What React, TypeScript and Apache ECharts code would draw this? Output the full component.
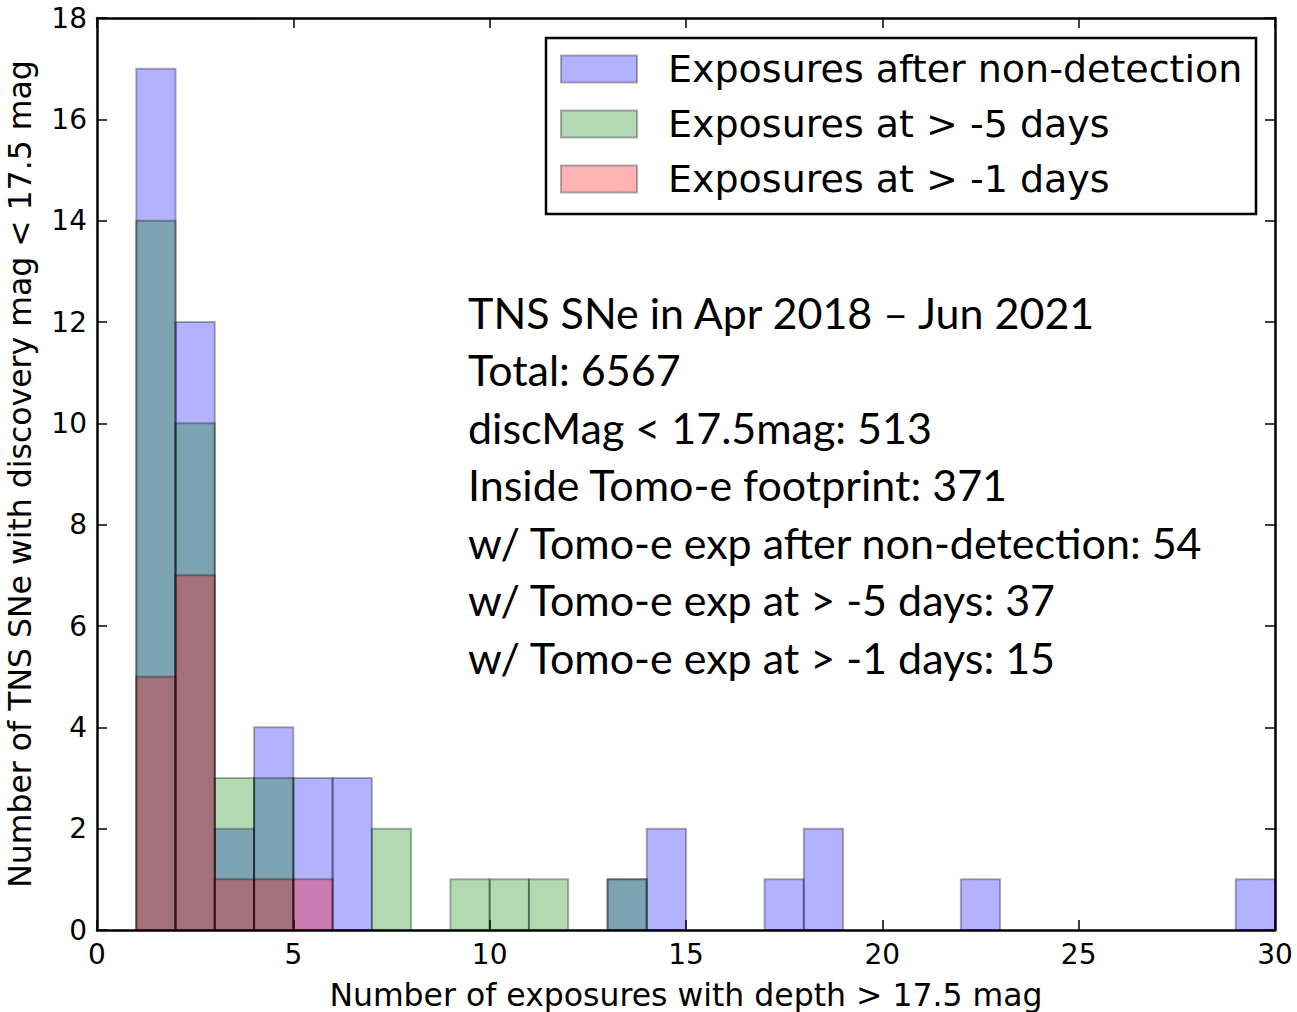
import React, { useEffect, useRef } from "react";
import * as echarts from "echarts";

// Histogram bins: left edges (width 1) and counts per series
const binStarts = [0,1,2,3,4,5,6,7,8,9,10,11,12,13,14,15,16,17,18,19,20,21,22,23,24,25,26,27,28,29];
const afterNonDetection = [0,17,12,2,4,3,3,0,0,0,0,0,0,1,2,0,0,1,2,0,0,0,1,0,0,0,0,0,0,1];
const atMinus5Days = [0,14,10,3,3,0,0,2,0,1,1,1,0,1,0,0,0,0,0,0,0,0,0,0,0,0,0,0,0,0];
const atMinus1Days = [0,5,7,1,1,1,0,0,0,0,0,0,0,0,0,0,0,0,0,0,0,0,0,0,0,0,0,0,0,0];
const binWidth = 1;

const seriesNames = ["Exposures after non-detection", "Exposures at > -5 days", "Exposures at > -1 days"];
const seriesColors = ["#0000ff", "#008000", "#ff0000"];
const seriesValues = [afterNonDetection, atMinus5Days, atMinus1Days];

const annotationLines = [
  "TNS SNe in Apr 2018 \u2013 Jun 2021",
  "Total: 6567",
  "discMag < 17.5mag: 513",
  "Inside Tomo-e footprint: 371",
  "w/ Tomo-e exp after non-detection: 54",
  "w/ Tomo-e exp at > -5 days: 37",
  "w/ Tomo-e exp at > -1 days: 15",
];

const FONT = "DejaVu Sans";

export default function App() {
  const ref = useRef<HTMLDivElement>(null);
  useEffect(() => {
    if (!ref.current) return;
    const chart = echarts.init(ref.current, null, { renderer: "svg" });

    const series = seriesValues.map((vals, si) => ({
      type: "custom",
      name: seriesNames[si],
      xAxisIndex: 0,
      yAxisIndex: 0,
      data: binStarts
        .map((b, i) => [b, b + binWidth, vals[i]])
        .filter((d) => d[2] > 0),
      encode: { x: [0, 1], y: 2 },
      renderItem: (params: any, api: any) => {
        const p0 = api.coord([api.value(0), api.value(2)]);
        const p1 = api.coord([api.value(1), 0]);
        return {
          type: "rect",
          shape: { x: p0[0], y: p0[1], width: p1[0] - p0[0], height: p1[1] - p0[1] },
          style: { fill: seriesColors[si], stroke: "#000", lineWidth: 2, opacity: 0.3 },
        };
      },
      z: 2 + si,
    }));

    const axisCommon = {
      axisLine: { show: true, onZero: false, lineStyle: { color: "#000", width: 2.5 } },
      axisTick: { show: true, inside: true, length: 10, lineStyle: { color: "#000", width: 1.5 } },
      splitLine: { show: false },
    };

    const legendGraphics: any[] = [
      {
        type: "rect",
        shape: { x: 546, y: 38, width: 710, height: 176 },
        style: { fill: "#fff", stroke: "#000", lineWidth: 2.5 },
        z: 100,
      },
    ];
    const rowCenters = [69, 124, 179];
    seriesNames.forEach((n, i) => {
      legendGraphics.push({
        type: "rect",
        shape: { x: 561, y: rowCenters[i] - 13.5, width: 76, height: 27 },
        style: { fill: seriesColors[i], stroke: "#000", lineWidth: 2, opacity: 0.3 },
        z: 101,
      });
      legendGraphics.push({
        type: "text",
        x: 668,
        y: rowCenters[i],
        style: { text: n, font: `38px '${FONT}'`, fill: "#000", verticalAlign: "middle", align: "left" },
        z: 101,
      });
    });

    const annotGraphics = annotationLines.map((t, i) => ({
      type: "text",
      x: 468,
      y: 312 + i * 57.5,
      style: { text: t, font: "43px Lato", fill: "#000", verticalAlign: "middle", align: "left" },
      z: 100,
    }));

    chart.setOption({
      animation: false,
      backgroundColor: "#fff",
      grid: { left: 97, right: 22, top: 18, bottom: 82, containLabel: false, outerBoundsMode: "none" },
      xAxis: [
        {
          type: "value",
          min: 0,
          max: 30,
          interval: 5,
          position: "bottom",
          name: "Number of exposures with depth > 17.5 mag",
          nameLocation: "middle",
          nameGap: 49,
          nameMoveOverlap: false,
          nameTextStyle: { fontFamily: FONT, fontSize: 31.5, color: "#000" },
          axisLabel: { fontFamily: FONT, fontSize: 28, color: "#000", margin: 10 },
          ...axisCommon,
        },
        {
          type: "value",
          min: 0,
          max: 30,
          interval: 5,
          position: "top",
          axisLabel: { show: false },
          ...axisCommon,
        },
      ],
      yAxis: [
        {
          type: "value",
          min: 0,
          max: 18,
          interval: 2,
          position: "left",
          name: "Number of TNS SNe with discovery mag < 17.5 mag",
          nameLocation: "middle",
          nameGap: 61,
          nameMoveOverlap: false,
          nameTextStyle: { fontFamily: FONT, fontSize: 31.5, color: "#000" },
          axisLabel: { fontFamily: FONT, fontSize: 28, color: "#000", margin: 10 },
          ...axisCommon,
        },
        {
          type: "value",
          min: 0,
          max: 18,
          interval: 2,
          position: "right",
          axisLabel: { show: false },
          ...axisCommon,
        },
      ],
      series,
      graphic: [...legendGraphics, ...annotGraphics],
    });
    return () => chart.dispose();
  }, []);
  return (
    <div
      ref={ref}
      style={{ position: "absolute", left: 0, top: 0, width: 1297, height: 1012 }}
    />
  );
}
